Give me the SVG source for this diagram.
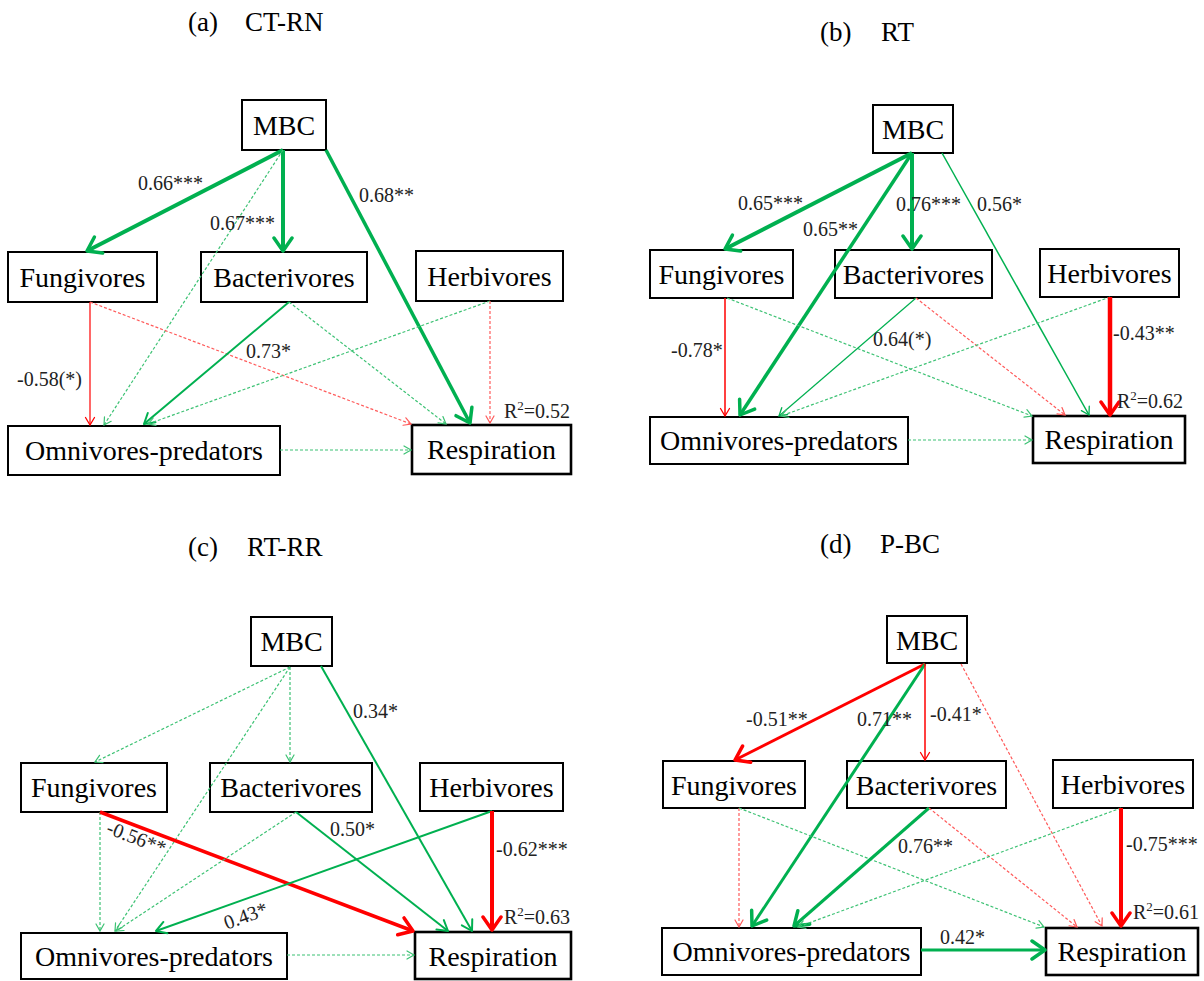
<svg xmlns="http://www.w3.org/2000/svg" width="1204" height="981" viewBox="0 0 1204 981" font-family="'Liberation Serif', 'DejaVu Serif', serif">
<style>
.bg{fill:#fff}
.box{fill:#fff;stroke:#000;stroke-width:2}
.resp{stroke-width:2.6}
.nt{font-family:'Liberation Serif','Tinos','DejaVu Serif',serif;font-size:28px;text-anchor:middle;fill:#000}
.tt{font-family:'Liberation Serif','Tinos','DejaVu Serif',serif;font-size:27px;fill:#000}
.lb{font-family:'Liberation Serif','Tinos','DejaVu Serif',serif;font-size:20px;fill:#222}
.c{fill:none}
.g{stroke:#00B050}
.r{stroke:#FF0000}
.gd{stroke:#3DC274;stroke-width:1.2;stroke-dasharray:3 2}
.rd{stroke:#FF5A5A;stroke-width:1.2;stroke-dasharray:3 2}
.w4{stroke-width:4}
.w35{stroke-width:3.5}
.w3{stroke-width:3}
.w2{stroke-width:2}
.w15{stroke-width:1.5}
.w12{stroke-width:1.2}
</style>
<defs>
<marker id="mGT" markerUnits="userSpaceOnUse" viewBox="-3 -12 19 24" markerWidth="19" markerHeight="24" refX="14" refY="0" orient="auto"><path d="M1,-9 L14,0 L1,9" fill="none" stroke="#00B050" stroke-width="3.5" stroke-linejoin="round" stroke-linecap="round"/></marker>
<marker id="mRT" markerUnits="userSpaceOnUse" viewBox="-3 -12 19 24" markerWidth="19" markerHeight="24" refX="14" refY="0" orient="auto"><path d="M1,-9 L14,0 L1,9" fill="none" stroke="#FF0000" stroke-width="3.5" stroke-linejoin="round" stroke-linecap="round"/></marker>
<marker id="mGM" markerUnits="userSpaceOnUse" viewBox="-2 -8 14 16" markerWidth="14" markerHeight="16" refX="10" refY="0" orient="auto"><path d="M0,-6 L10,0 L0,6" fill="none" stroke="#00B050" stroke-width="2" stroke-linejoin="round" stroke-linecap="round"/></marker>
<marker id="mGS" markerUnits="userSpaceOnUse" viewBox="-2 -6 11 12" markerWidth="11" markerHeight="12" refX="7.5" refY="0" orient="auto"><path d="M0,-4.5 L7.5,0 L0,4.5" fill="none" stroke="#00B050" stroke-width="1.3" stroke-linecap="round"/></marker>
<marker id="mRS" markerUnits="userSpaceOnUse" viewBox="-2 -6 11 12" markerWidth="11" markerHeight="12" refX="7.5" refY="0" orient="auto"><path d="M0,-4.5 L7.5,0 L0,4.5" fill="none" stroke="#FF0000" stroke-width="1.3" stroke-linecap="round"/></marker>
<marker id="mGD" markerUnits="userSpaceOnUse" viewBox="-2 -6 11 12" markerWidth="11" markerHeight="12" refX="7" refY="0" orient="auto"><path d="M0,-4 L7,0 L0,4" fill="none" stroke="#3DC274" stroke-width="1.2" stroke-linecap="round"/></marker>
<marker id="mRD" markerUnits="userSpaceOnUse" viewBox="-2 -6 11 12" markerWidth="11" markerHeight="12" refX="7" refY="0" orient="auto"><path d="M0,-4 L7,0 L0,4" fill="none" stroke="#FF5A5A" stroke-width="1.2" stroke-linecap="round"/></marker>
</defs>
<rect class="bg" x="0" y="0" width="1204" height="981"/>

<!-- Panel (a) -->
<g id="panel-a">
<text class="tt" x="188" y="31">(a)</text>
<text class="tt" x="245" y="31">CT-RN</text>
<g id="a-mbc"><rect class="box" x="242" y="100" width="84" height="50"/><text class="nt" x="284" y="135">MBC</text></g>
<g id="a-fungivores"><rect class="box" x="8" y="252" width="149" height="50"/><text class="nt" x="82.5" y="287">Fungivores</text></g>
<g id="a-bacterivores"><rect class="box" x="201" y="252" width="166" height="50"/><text class="nt" x="284" y="287">Bacterivores</text></g>
<g id="a-herbivores"><rect class="box" x="416" y="251" width="147" height="50"/><text class="nt" x="489.5" y="286">Herbivores</text></g>
<g id="a-omnivores"><rect class="box" x="8" y="426" width="272" height="49"/><text class="nt" x="144" y="460">Omnivores-predators</text></g>
<g id="a-respiration"><rect class="box resp" x="412" y="425" width="159" height="49"/><text class="nt" x="491.5" y="459">Respiration</text></g>
<g id="a-connectors">
<path class="c g w4" d="M283,150 L87,251" marker-end="url(#mGT)"/>
<path class="c g w4" d="M283,150 L283,251" marker-end="url(#mGT)"/>
<path class="c gd" d="M283,150 L104,425" marker-end="url(#mGD)"/>
<path class="c g w35" d="M326,150 L470,423" marker-end="url(#mGT)"/>
<path class="c r w12" d="M90,302 L90,425" marker-end="url(#mRS)"/>
<path class="c rd" d="M90,302 L411,424" marker-end="url(#mRD)"/>
<path class="c g w2" d="M289,302 L144,424" marker-end="url(#mGM)"/>
<path class="c gd" d="M289,302 L446,424" marker-end="url(#mGD)"/>
<path class="c gd" d="M490,301 L148,424" marker-end="url(#mGD)"/>
<path class="c rd" d="M490,301 L490,423" marker-end="url(#mRD)"/>
<path class="c gd" d="M280,450 L411,450" marker-end="url(#mGD)"/>
<text class="lb" x="138" y="190">0.66***</text>
<text class="lb" x="210" y="230">0.67***</text>
<text class="lb" x="359" y="202">0.68**</text>
<text class="lb" x="17" y="386">-0.58(*)</text>
<text class="lb" x="246" y="358">0.73*</text>
<text class="lb" x="504" y="418">R<tspan dy="-8" font-size="13">2</tspan><tspan dy="8">=0.52</tspan></text>
</g>
</g>

<!-- Panel (b) -->
<g id="panel-b">
<text class="tt" x="820" y="41">(b)</text>
<text class="tt" x="881" y="41">RT</text>
<g id="b-mbc"><rect class="box" x="873" y="105" width="80" height="48"/><text class="nt" x="913" y="139">MBC</text></g>
<g id="b-fungivores"><rect class="box" x="650" y="250" width="143" height="48"/><text class="nt" x="721.5" y="284">Fungivores</text></g>
<g id="b-bacterivores"><rect class="box" x="835" y="250" width="157" height="48"/><text class="nt" x="913.5" y="284">Bacterivores</text></g>
<g id="b-herbivores"><rect class="box" x="1040" y="249" width="139" height="48"/><text class="nt" x="1109.5" y="283">Herbivores</text></g>
<g id="b-omnivores"><rect class="box" x="650" y="417" width="258" height="47"/><text class="nt" x="779" y="450">Omnivores-predators</text></g>
<g id="b-respiration"><rect class="box resp" x="1033" y="416" width="152" height="47"/><text class="nt" x="1109" y="449">Respiration</text></g>
<g id="b-connectors">
<path class="c g w4" d="M912,153 L725,249" marker-end="url(#mGT)"/>
<path class="c g w35" d="M912,153 L740,415" marker-end="url(#mGT)"/>
<path class="c g w4" d="M912,153 L912,249" marker-end="url(#mGT)"/>
<path class="c g w15" d="M942,153 L1089,415" marker-end="url(#mGS)"/>
<path class="c r w15" d="M725,298 L725,416" marker-end="url(#mRS)"/>
<path class="c gd" d="M727,298 L1032,416" marker-end="url(#mGD)"/>
<path class="c g w12" d="M916,298 L779,416" marker-end="url(#mGS)"/>
<path class="c rd" d="M916,298 L1065,415" marker-end="url(#mRD)"/>
<path class="c gd" d="M1110,297 L781,416" marker-end="url(#mGD)"/>
<path class="c r" style="stroke-width:4.5" d="M1110,297 L1110,415" marker-end="url(#mRT)"/>
<path class="c gd" d="M908,440 L1032,440" marker-end="url(#mGD)"/>
<text class="lb" x="738" y="210">0.65***</text>
<text class="lb" x="803" y="236">0.65**</text>
<text class="lb" x="896" y="211">0.76***</text>
<text class="lb" x="977" y="211">0.56*</text>
<text class="lb" x="671" y="357">-0.78*</text>
<text class="lb" x="873" y="346">0.64(*)</text>
<text class="lb" x="1113" y="340">-0.43**</text>
<text class="lb" x="1117" y="408">R<tspan dy="-8" font-size="13">2</tspan><tspan dy="8">=0.62</tspan></text>
</g>
</g>

<!-- Panel (c) -->
<g id="panel-c">
<text class="tt" x="188" y="556">(c)</text>
<text class="tt" x="247" y="556">RT-RR</text>
<g id="c-mbc"><rect class="box" x="251" y="617" width="81" height="49"/><text class="nt" x="291.5" y="651">MBC</text></g>
<g id="c-fungivores"><rect class="box" x="21" y="763" width="146" height="49"/><text class="nt" x="94" y="797">Fungivores</text></g>
<g id="c-bacterivores"><rect class="box" x="210" y="763" width="162" height="49"/><text class="nt" x="291" y="797">Bacterivores</text></g>
<g id="c-herbivores"><rect class="box" x="420" y="763" width="143" height="48"/><text class="nt" x="491.5" y="797">Herbivores</text></g>
<g id="c-omnivores"><rect class="box" x="21" y="933" width="266" height="46"/><text class="nt" x="154" y="966">Omnivores-predators</text></g>
<g id="c-respiration"><rect class="box resp" x="415" y="932" width="156" height="47"/><text class="nt" x="493" y="966">Respiration</text></g>
<g id="c-connectors">
<path class="c gd" d="M290,667 L95,762" marker-end="url(#mGD)"/>
<path class="c gd" d="M290,667 L290,762" marker-end="url(#mGD)"/>
<path class="c gd" d="M290,667 L115,931" marker-end="url(#mGD)"/>
<path class="c g w2" d="M321,666 L472,931" marker-end="url(#mGM)"/>
<path class="c gd" d="M100,812 L100,931" marker-end="url(#mGD)"/>
<path class="c r w35" d="M100,812 L413,931" marker-end="url(#mRT)"/>
<path class="c g w2" d="M296,812 L448,931" marker-end="url(#mGM)"/>
<path class="c gd" d="M296,812 L116,931" marker-end="url(#mGD)"/>
<path class="c g w2" d="M492,811 L156,931" marker-end="url(#mGM)"/>
<path class="c r w4" d="M492,811 L492,930" marker-end="url(#mRT)"/>
<path class="c gd" d="M287,955 L414,955" marker-end="url(#mGD)"/>
<text class="lb" x="353" y="718">0.34*</text>
<text class="lb" text-anchor="middle" transform="translate(134,844) rotate(21)">-0.56**</text>
<text class="lb" x="330" y="836">0.50*</text>
<text class="lb" text-anchor="middle" transform="translate(248,922) rotate(-20)">0.43*</text>
<text class="lb" x="496" y="856">-0.62***</text>
<text class="lb" x="504" y="924">R<tspan dy="-8" font-size="13">2</tspan><tspan dy="8">=0.63</tspan></text>
</g>
</g>

<!-- Panel (d) -->
<g id="panel-d">
<text class="tt" x="820" y="553">(d)</text>
<text class="tt" x="880" y="553">P-BC</text>
<g id="d-mbc"><rect class="box" x="887" y="616" width="80" height="47"/><text class="nt" x="927" y="650">MBC</text></g>
<g id="d-fungivores"><rect class="box" x="663" y="761" width="142" height="47"/><text class="nt" x="734" y="795">Fungivores</text></g>
<g id="d-bacterivores"><rect class="box" x="847" y="761" width="159" height="47"/><text class="nt" x="926.5" y="795">Bacterivores</text></g>
<g id="d-herbivores"><rect class="box" x="1053" y="760" width="140" height="48"/><text class="nt" x="1123" y="794">Herbivores</text></g>
<g id="d-omnivores"><rect class="box" x="662" y="928" width="259" height="47"/><text class="nt" x="791.5" y="961">Omnivores-predators</text></g>
<g id="d-respiration"><rect class="box resp" x="1046" y="928" width="152" height="47"/><text class="nt" x="1122" y="961">Respiration</text></g>
<g id="d-connectors">
<path class="c r w3" d="M925,664 L735,760" marker-end="url(#mRT)"/>
<path class="c g w3" d="M925,664 L752,926" marker-end="url(#mGT)"/>
<path class="c r w15" d="M925,664 L925,760" marker-end="url(#mRS)"/>
<path class="c rd" d="M961,664 L1102,926" marker-end="url(#mRD)"/>
<path class="c rd" d="M739,808 L739,927" marker-end="url(#mRD)"/>
<path class="c gd" d="M739,808 L1044,927" marker-end="url(#mGD)"/>
<path class="c g w3" d="M929,808 L794,926" marker-end="url(#mGT)"/>
<path class="c rd" d="M929,808 L1077,927" marker-end="url(#mRD)"/>
<path class="c gd" d="M1121,808 L798,927" marker-end="url(#mGD)"/>
<path class="c r w4" d="M1121,808 L1121,926" marker-end="url(#mRT)"/>
<path class="c g w3" d="M921,950 L1045,950" marker-end="url(#mGT)"/>
<text class="lb" x="746" y="726">-0.51**</text>
<text class="lb" x="857" y="726">0.71**</text>
<text class="lb" x="930" y="721">-0.41*</text>
<text class="lb" x="898" y="853">0.76**</text>
<text class="lb" x="1126" y="851">-0.75***</text>
<text class="lb" x="940" y="944">0.42*</text>
<text class="lb" x="1133" y="919">R<tspan dy="-8" font-size="13">2</tspan><tspan dy="8">=0.61</tspan></text>
</g>
</g>
</svg>
